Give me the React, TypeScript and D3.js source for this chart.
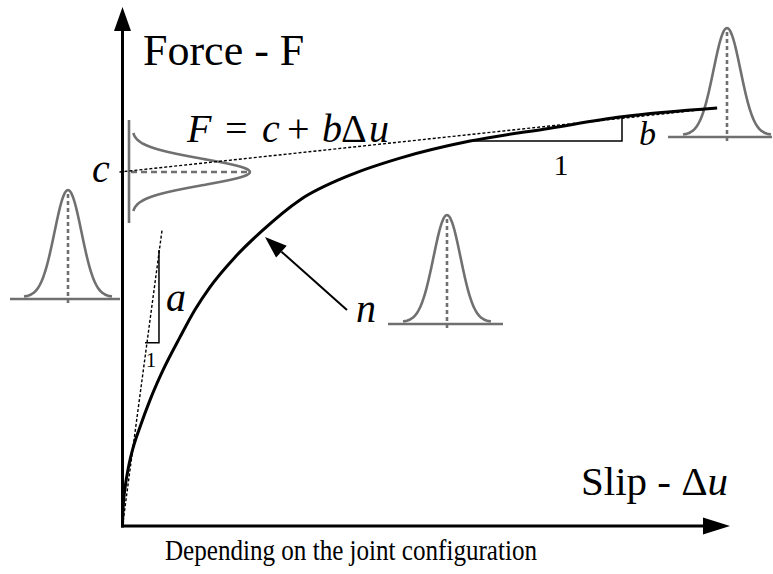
import React from 'react';
import * as d3 from 'd3';

const W = 773;
const H = 574;

// Load–slip curve, in axis units (slip 0–100, force 0–100)
const curveSlip = [0, 0.05, 0.17, 0.42, 0.97, 1.8, 2.92, 4.58, 6.75, 9.58, 12.08, 14.58, 18.75, 23.25, 29.58, 37.92, 46.25, 57.92, 71.25, 83.25, 99.1];
const curveForce = [0, 2.13, 4.65, 7.36, 11.24, 15.3, 19.2, 24.4, 30.2, 36.6, 41.9, 46.3, 52.1, 57.2, 63.2, 68.0, 71.3, 74.6, 77.1, 79.3, 81.0];

// Asymptote F = c + b·Δu and initial stiffness a
const C_VALUE = 68.6;
const B_SLOPE = 0.125;
const ASYMPTOTE_END = 99.1;
const A_SLOPE = 8.7;
const TANGENT_END = 6.6;

// Slope triangles in axis units
const triA = { xLeft: 3.75, xRight: 6.08, yLow: 35.5, yHigh: 53.5 };
const triB = { xLeft: 57.9, xRight: 83.25, yLow: 74.6, yHigh: 79.3 };

const x = d3.scaleLinear().domain([0, 100]).range([122.5, 722.5]);
const y = d3.scaleLinear().domain([0, 100]).range([526, 10]);

const GRAY = '#707070';
const T: React.CSSProperties = { fontFamily: "'Liberation Serif', 'Times New Roman', serif" };

// Bell-shaped distribution glyph, in local coordinates (baseline at 0, peak up)
function bellPath(height: number, sigma: number, half: number, lift: number) {
  const pts: [number, number][] = [];
  for (let t = -half; t <= half; t += 1) {
    pts.push([t, -(height * Math.exp(-(t * t) / (2 * sigma * sigma)) + lift)]);
  }
  return d3.line().curve(d3.curveBasis)(pts) || '';
}

function Bell({ cx, base, left, right, height = 107 }: { cx: number; base: number; left: number; right: number; height?: number }) {
  return (
    <g transform={`translate(${cx},${base})`}>
      <line x1={left} x2={right} y1={0} y2={0} stroke={GRAY} strokeWidth={2.6} />
      <path d={bellPath(height, 13.5, 44, 2)} fill="none" stroke={GRAY} strokeWidth={2.6} />
      <line x1={0} x2={0} y1={-height + 2} y2={6} stroke={GRAY} strokeWidth={2.6} strokeDasharray="4,3" />
    </g>
  );
}

function SideBell() {
  // Distribution of c, lying on its side against the force axis
  const height = 118;
  return (
    <g transform={`translate(129,${y(C_VALUE)}) rotate(90)`}>
      <line x1={-52} x2={51} y1={0} y2={0} stroke={GRAY} strokeWidth={2.6} />
      <path d={bellPath(height, 13, 39, 3)} fill="none" stroke={GRAY} strokeWidth={2.6} />
      <line x1={0} x2={0} y1={-height} y2={0} stroke={GRAY} strokeWidth={2.4} strokeDasharray="6,4" />
    </g>
  );
}

export default function App() {
  const pts = curveSlip.map((s, i) => [x(s), y(curveForce[i])] as [number, number]);
  const curve = d3.line().curve(d3.curveMonotoneX)(pts) || '';

  const ox = x(0);
  const oy = y(0);

  const arrowTip: [number, number] = [265, 237];
  const arrowTail: [number, number] = [347, 310];
  const ang = Math.atan2(arrowTail[1] - arrowTip[1], arrowTail[0] - arrowTip[0]);
  const ahLen = 22;
  const ahW = 8;
  const bx = arrowTip[0] + ahLen * Math.cos(ang);
  const by = arrowTip[1] + ahLen * Math.sin(ang);
  const head = `M${arrowTip[0]},${arrowTip[1]} L${bx - ahW * Math.sin(ang)},${by + ahW * Math.cos(ang)} L${bx + ahW * Math.sin(ang)},${by - ahW * Math.cos(ang)} Z`;

  return (
    <svg width={W} height={H} style={{ position: 'absolute', left: 0, top: 0, background: '#fff' }}>
      {/* distribution glyphs */}
      <Bell cx={68} base={299} left={-58} right={52} />
      <Bell cx={447} base={324} left={-59} right={56} />
      <Bell cx={727} base={137} left={-59} right={45} />
      <SideBell />

      {/* axes */}
      <line x1={ox} y1={oy + 1.5} x2={ox} y2={30} stroke="#000" strokeWidth={3} />
      <path d={`M${ox},7 L${ox - 8.5},31 L${ox + 8.5},31 Z`} fill="#000" />
      <line x1={ox - 1.5} y1={oy} x2={706} y2={oy} stroke="#000" strokeWidth={3} />
      <path d={`M730,${oy} L703,${oy - 8.5} L703,${oy + 8.5} Z`} fill="#000" />

      {/* asymptote and initial tangent */}
      <line x1={x(0) - 3} y1={y(C_VALUE)} x2={x(ASYMPTOTE_END)} y2={y(C_VALUE + B_SLOPE * ASYMPTOTE_END)} stroke="#000" strokeWidth={1.4} strokeDasharray="3,2" />
      <line x1={x(0)} y1={y(0)} x2={x(TANGENT_END)} y2={y(A_SLOPE * TANGENT_END)} stroke="#000" strokeWidth={1.4} strokeDasharray="3,2" />

      {/* slope triangles */}
      <polyline points={`${x(triA.xLeft)},${y(triA.yLow)} ${x(triA.xRight)},${y(triA.yLow)} ${x(triA.xRight)},${y(triA.yHigh)}`} fill="none" stroke="#000" strokeWidth={1.5} />
      <polyline points={`${x(triB.xLeft)},${y(triB.yLow)} ${x(triB.xRight)},${y(triB.yLow)} ${x(triB.xRight)},${y(triB.yHigh)}`} fill="none" stroke="#000" strokeWidth={1.5} />

      {/* load-slip curve */}
      <path d={curve} fill="none" stroke="#000" strokeWidth={3} />

      {/* pointer to n */}
      <line x1={arrowTail[0]} y1={arrowTail[1]} x2={bx} y2={by} stroke="#000" strokeWidth={2} />
      <path d={head} fill="#000" />

      {/* labels */}
      <text x={143} y={65} fontSize={44} style={T}>Force - F</text>
      <text y={142} fontSize={40} fontStyle="italic" style={T}>
        <tspan x={187}>F</tspan>
        <tspan x={225} fontStyle="normal">=</tspan>
        <tspan x={262}>c</tspan>
        <tspan x={287} fontStyle="normal">+</tspan>
        <tspan x={322}>b</tspan>
        <tspan x={341} fontStyle="normal">Δ</tspan>
        <tspan x={369}>u</tspan>
      </text>
      <text x={92} y={182} fontSize={40} fontStyle="italic" style={T}>c</text>
      <text x={166} y={311} fontSize={40} fontStyle="italic" style={T}>a</text>
      <text x={151} y={367} fontSize={21} textAnchor="middle" style={T}>1</text>
      <text x={639} y={145} fontSize={34} fontStyle="italic" style={T}>b</text>
      <text x={561} y={175} fontSize={30} textAnchor="middle" style={T}>1</text>
      <text x={356} y={322} fontSize={40} fontStyle="italic" style={T}>n</text>
      <text x={581} y={495} fontSize={41} style={T}>
        Slip - Δ<tspan fontStyle="italic">u</tspan>
      </text>
      <text x={165} y={560} fontSize={29} textLength={372} lengthAdjust="spacingAndGlyphs" style={T}>Depending on the joint configuration</text>
    </svg>
  );
}
